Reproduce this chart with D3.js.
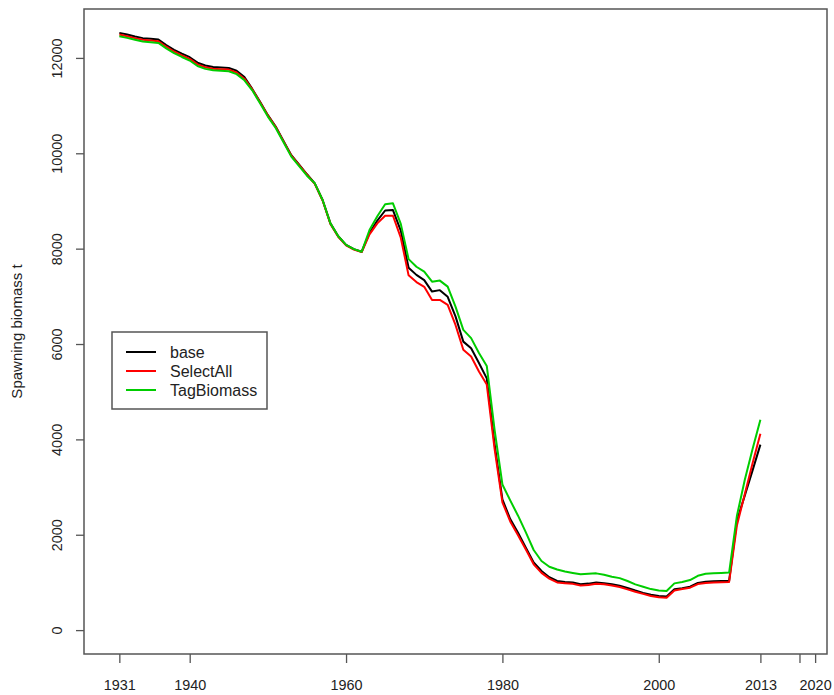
<!DOCTYPE html>
<html>
<head>
<meta charset="utf-8">
<script src="https://cdn.jsdelivr.net/npm/d3@7"></script>
<style>
  body { margin: 0; background: #fff; }
  svg { font-family: "Liberation Sans", Arial, sans-serif; }
</style>
</head>
<body>
<svg width="834" height="695"></svg>
<script>
"use strict";

const years = [1931,1932,1933,1934,1935,1936,1937,1938,1939,1940,
  1941,1942,1943,1944,1945,1946,1947,1948,1949,1950,
  1951,1952,1953,1954,1955,1956,1957,1958,1959,1960,
  1961,1962,1963,1964,1965,1966,1967,1968,1969,1970,
  1971,1972,1973,1974,1975,1976,1977,1978,1979,1980,
  1981,1982,1983,1984,1985,1986,1987,1988,1989,1990,
  1991,1992,1993,1994,1995,1996,1997,1998,1999,2000,
  2001,2002,2003,2004,2005,2006,2007,2008,2009,2010,
  2011,2012,2013];

const base = [12525,12490,12450,12415,12400,12385,12270,12170,12090,12015,
  11900,11840,11810,11800,11790,11730,11600,11350,11080,10800,
  10560,10260,9960,9760,9560,9370,9020,8530,8260,8080,
  7990,7935,8330,8590,8800,8810,8380,7600,7450,7340,
  7100,7130,6990,6580,6050,5910,5600,5280,3900,2740,
  2330,2040,1730,1420,1240,1110,1030,1010,1000,962,
  975,997,985,960,930,885,830,780,740,718,
  704,857,880,910,990,1015,1025,1030,1031,2300,
  2820,3350,3890];

const selectAll = [12490,12455,12415,12380,12365,12350,12235,12135,12055,11980,
  11865,11805,11775,11765,11755,11695,11565,11340,11070,10790,
  10550,10250,9950,9750,9550,9360,9010,8520,8250,8070,
  7980,7930,8300,8530,8690,8690,8230,7440,7300,7200,
  6925,6925,6820,6400,5880,5740,5425,5150,3800,2680,
  2280,1990,1690,1380,1200,1080,1000,985,970,935,
  945,970,960,935,905,855,805,760,715,690,
  680,830,860,890,965,990,1000,1005,1010,2200,
  2850,3500,4120];

const tagBiomass = [12455,12420,12380,12345,12330,12315,12200,12100,12020,11945,
  11830,11770,11740,11730,11720,11660,11530,11320,11050,10770,
  10530,10230,9930,9730,9530,9370,9020,8530,8260,8080,
  7990,7935,8390,8680,8930,8950,8520,7780,7620,7517,
  7308,7330,7203,6785,6297,6123,5810,5540,4200,3054,
  2720,2400,2050,1680,1450,1330,1270,1230,1200,1170,
  1180,1190,1160,1120,1090,1030,960,910,860,830,
  820,980,1010,1050,1140,1180,1195,1200,1207,2400,
  3150,3800,4414];

const seriesNames = ["base", "SelectAll", "TagBiomass"];
const seriesColors = ["#000000", "#ff0000", "#00cd00"];
const seriesValues = [base, selectAll, tagBiomass];

const yTicks = [0, 2000, 4000, 6000, 8000, 10000, 12000];
const xTicks = [1931, 1940, 1960, 1980, 2000, 2013, 2018, 2020];
const xTickLabels = ["1931", "1940", "1960", "1980", "2000", "2013", "", "2020"];

const svg = d3.select("svg");
const box = { left: 84, right: 827, top: 9, bottom: 654 };
const axisCol = "#555";

const x = d3.scaleLinear().domain([1926.48, 2021.52]).range([box.left, box.right]);
const y = d3.scaleLinear().domain([-501, 13026]).range([box.bottom, box.top]);

// y axis
const gy = svg.append("g")
  .attr("transform", `translate(${box.left},0)`)
  .call(d3.axisLeft(y).tickValues(yTicks).tickSize(8).tickFormat(d3.format("d")));
gy.select(".domain").remove();
gy.selectAll(".tick line").attr("stroke", axisCol).attr("stroke-width", 1.3);
gy.selectAll(".tick text")
  .attr("x", null).attr("dy", null)
  .attr("transform", "translate(-22,0) rotate(-90)")
  .attr("text-anchor", "middle")
  .attr("fill", "#222")
  .style("font-size", "14.4px");

// x axis
const gx = svg.append("g")
  .attr("transform", `translate(0,${box.bottom})`)
  .call(d3.axisBottom(x).tickValues(xTicks).tickSize(9)
    .tickFormat((d, i) => xTickLabels[i]));
gx.select(".domain").remove();
gx.selectAll(".tick line").attr("stroke", axisCol).attr("stroke-width", 1.3);
gx.selectAll(".tick text")
  .attr("y", 36).attr("dy", null)
  .attr("fill", "#222")
  .style("font-size", "14.4px");

// y label
svg.append("text")
  .attr("transform", `translate(22,${(box.top + box.bottom) / 2}) rotate(-90)`)
  .attr("text-anchor", "middle")
  .attr("fill", "#222")
  .style("font-size", "15px")
  .text("Spawning biomass t");

// lines
const line = d3.line()
  .x((d, i) => x(years[i]))
  .y(d => y(d));

seriesValues.forEach((vals, k) => {
  svg.append("path")
    .datum(vals)
    .attr("d", line)
    .attr("fill", "none")
    .attr("stroke", seriesColors[k])
    .attr("stroke-width", 2)
    .attr("stroke-linejoin", "round");
});

// plot box
svg.append("rect")
  .attr("x", box.left).attr("y", box.top)
  .attr("width", box.right - box.left).attr("height", box.bottom - box.top)
  .attr("fill", "none")
  .attr("stroke", axisCol)
  .attr("stroke-width", 1.5);

// legend
const lg = svg.append("g").attr("transform", "translate(112,332)");
lg.append("rect")
  .attr("width", 155).attr("height", 77)
  .attr("fill", "#fff")
  .attr("stroke", axisCol)
  .attr("stroke-width", 1.5);
seriesNames.forEach((name, k) => {
  const yy = 20 + k * 19;
  lg.append("line")
    .attr("x1", 14).attr("x2", 44)
    .attr("y1", yy).attr("y2", yy)
    .attr("stroke", seriesColors[k])
    .attr("stroke-width", 2);
  lg.append("text")
    .attr("x", 58).attr("y", yy)
    .attr("dy", "0.35em")
    .attr("fill", "#222")
    .style("font-size", "16px")
    .text(name);
});
</script>
</body>
</html>
